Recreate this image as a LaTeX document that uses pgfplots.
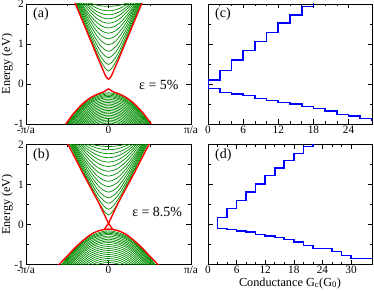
\documentclass[border=0pt]{standalone}
\usepackage{fontspec}
\setmainfont{Liberation Serif}
\usepackage{pgfplots}
\pgfplotsset{compat=1.18}
\definecolor{bgreen}{RGB}{0,140,0}
\definecolor{bred}{RGB}{255,0,0}
\definecolor{bblue}{RGB}{0,0,255}
\tikzset{plab/.style={anchor=north west, xshift=6bp, yshift=-3bp, inner sep=1bp, font=\fontsize{14}{16}\selectfont}}
\pgfplotsset{
  base/.style={scale only axis, height=120bp, anchor=south west,
    ymin=-1, ymax=2, ytick={-1,0,1,2}, minor ytick={-0.5,0.5,1.5},
    tick align=inside, major tick length=4.5bp, minor tick length=2.5bp,
    axis line style={line width=0.6pt},
    every tick/.append style={line width=0.5pt, black},
    tick label style={font=\fontsize{11.3}{13}\selectfont},
    label style={font=\fontsize{12.3}{14}\selectfont},
    /pgf/number format/assume math mode=true,
    xticklabel style={inner ysep=1.5bp},
    yticklabel style={inner xsep=2bp},
  },
  leftax/.style={base, width=165bp, xmin=-1, xmax=1, xtick={-1,0,1},
    xticklabels={{-π/a},{0},{π/a}}, minor xtick={-0.5,0.5},
    ylabel={Energy (eV)},
    ylabel style={at={(axis description cs:-0.096,0.5)}, anchor=base, inner sep=0pt}},
  rightax/.style={base, width=164bp, xmin=0, minor x tick num=2, yticklabels={}},
  gr/.style={color=bgreen, line width=0.7pt, smooth},
  rd/.style={color=bred, line width=1.4pt, smooth},
  bl/.style={draw=bblue, color=bblue, line width=1.6pt},
}
\begin{document}
\begin{tikzpicture}
%================ (a) =================
\begin{axis}[leftax, at={(26bp,167bp)}]
% conduction subbands
\addplot[gr] coordinates {(-0.4875,2.488) (-0.39,2) (-0.2925,1.515) (-0.195,1.039) (-0.0975,0.591) (0,0.325) (0.0975,0.591) (0.195,1.039) (0.2925,1.515) (0.39,2) (0.4875,2.488)};
\addplot[gr] coordinates {(-0.475,2.473) (-0.38,2) (-0.285,1.535) (-0.19,1.086) (-0.095,0.689) (0,0.49) (0.095,0.689) (0.19,1.086) (0.285,1.535) (0.38,2) (0.475,2.473)};
\addplot[gr] coordinates {(-0.4625,2.450) (-0.37,2) (-0.2775,1.562) (-0.185,1.152) (-0.0925,0.811) (0,0.66) (0.0925,0.811) (0.185,1.152) (0.2775,1.562) (0.37,2) (0.4625,2.450)};
\addplot[gr] coordinates {(-0.45,2.423) (-0.36,2) (-0.27,1.595) (-0.18,1.227) (-0.09,0.938) (0,0.82) (0.09,0.938) (0.18,1.227) (0.27,1.595) (0.36,2) (0.45,2.423)};
\addplot[gr] coordinates {(-0.4375,2.390) (-0.35,2) (-0.2625,1.634) (-0.175,1.312) (-0.0875,1.073) (0,0.98) (0.0875,1.073) (0.175,1.312) (0.2625,1.634) (0.35,2) (0.4375,2.390)};
\addplot[gr] coordinates {(-0.425,2.352) (-0.34,2) (-0.255,1.676) (-0.17,1.399) (-0.085,1.203) (0,1.13) (0.085,1.203) (0.17,1.399) (0.255,1.676) (0.34,2) (0.425,2.352)};
\addplot[gr] coordinates {(-0.4125,2.311) (-0.33,2) (-0.2475,1.719) (-0.165,1.486) (-0.0825,1.327) (0,1.27) (0.0825,1.327) (0.165,1.486) (0.2475,1.719) (0.33,2) (0.4125,2.311)};
\addplot[gr] coordinates {(-0.40,2.269) (-0.32,2) (-0.24,1.763) (-0.16,1.572) (-0.08,1.445) (0,1.40) (0.08,1.445) (0.16,1.572) (0.24,1.763) (0.32,2) (0.40,2.269)};
\addplot[gr] coordinates {(-0.375,2.225) (-0.30,2) (-0.225,1.806) (-0.15,1.653) (-0.075,1.554) (0,1.52) (0.075,1.554) (0.15,1.653) (0.225,1.806) (0.30,2) (0.375,2.225)};
\addplot[gr] coordinates {(-0.35,2.181) (-0.28,2) (-0.21,1.847) (-0.14,1.730) (-0.07,1.656) (0,1.63) (0.07,1.656) (0.14,1.730) (0.21,1.847) (0.28,2) (0.35,2.181)};
\addplot[gr] coordinates {(-0.325,2.137) (-0.26,2) (-0.195,1.887) (-0.13,1.801) (-0.065,1.748) (0,1.73) (0.065,1.748) (0.13,1.801) (0.195,1.887) (0.26,2) (0.325,2.137)};
\addplot[gr] coordinates {(-0.2875,2.090) (-0.23,2) (-0.1725,1.927) (-0.115,1.874) (-0.0575,1.841) (0,1.83) (0.0575,1.841) (0.115,1.874) (0.1725,1.927) (0.23,2) (0.2875,2.090)};
\addplot[gr] coordinates {(-0.2375,2.033) (-0.19,2) (-0.1425,1.974) (-0.095,1.955) (-0.0475,1.944) (0,1.94) (0.0475,1.944) (0.095,1.955) (0.1425,1.974) (0.19,2) (0.2375,2.033)};
% valence subbands
\addplot[gr] coordinates {(-0.663,-1.538) (-0.510,-1) (-0.255,-0.415) (0,-0.22) (0.255,-0.415) (0.510,-1) (0.663,-1.538)};
\addplot[gr] coordinates {(-0.65,-1.5175) (-0.5,-1) (-0.25,-0.4375) (0,-0.25) (0.25,-0.4375) (0.5,-1) (0.65,-1.5175)};
\addplot[gr] coordinates {(-0.637,-1.497) (-0.490,-1) (-0.245,-0.46) (0,-0.28) (0.245,-0.46) (0.490,-1) (0.637,-1.497)};
\addplot[gr] coordinates {(-0.624,-1.476) (-0.480,-1) (-0.24,-0.4825) (0,-0.31) (0.24,-0.4825) (0.480,-1) (0.624,-1.476)};
\addplot[gr] coordinates {(-0.610,-1.455) (-0.469,-1) (-0.2345,-0.505) (0,-0.34) (0.2345,-0.505) (0.469,-1) (0.610,-1.455)};
\addplot[gr] coordinates {(-0.591,-1.428) (-0.455,-1) (-0.2275,-0.535) (0,-0.38) (0.2275,-0.535) (0.455,-1) (0.591,-1.428)};
\addplot[gr] coordinates {(-0.572,-1.40) (-0.440,-1) (-0.22,-0.565) (0,-0.42) (0.22,-0.565) (0.440,-1) (0.572,-1.40)};
\addplot[gr] coordinates {(-0.552,-1.373) (-0.424,-1) (-0.212,-0.595) (0,-0.46) (0.212,-0.595) (0.424,-1) (0.552,-1.373)};
\addplot[gr] coordinates {(-0.531,-1.345) (-0.408,-1) (-0.204,-0.625) (0,-0.50) (0.204,-0.625) (0.408,-1) (0.531,-1.345)};
\addplot[gr] coordinates {(-0.509,-1.317) (-0.392,-1) (-0.196,-0.655) (0,-0.54) (0.196,-0.655) (0.392,-1) (0.509,-1.317)};
\addplot[gr] coordinates {(-0.486,-1.29) (-0.374,-1) (-0.187,-0.685) (0,-0.58) (0.187,-0.685) (0.374,-1) (0.486,-1.29)};
\addplot[gr] coordinates {(-0.463,-1.262) (-0.356,-1) (-0.178,-0.715) (0,-0.62) (0.178,-0.715) (0.356,-1) (0.463,-1.262)};
\addplot[gr] coordinates {(-0.438,-1.235) (-0.337,-1) (-0.168,-0.745) (0,-0.66) (0.168,-0.745) (0.337,-1) (0.438,-1.235)};
\addplot[gr] coordinates {(-0.411,-1.207) (-0.316,-1) (-0.158,-0.775) (0,-0.70) (0.158,-0.775) (0.316,-1) (0.411,-1.207)};
\addplot[gr] coordinates {(-0.383,-1.179) (-0.294,-1) (-0.147,-0.805) (0,-0.74) (0.147,-0.805) (0.294,-1) (0.383,-1.179)};
\addplot[gr] coordinates {(-0.352,-1.152) (-0.271,-1) (-0.135,-0.835) (0,-0.78) (0.135,-0.835) (0.271,-1) (0.352,-1.152)};
\addplot[gr] coordinates {(-0.318,-1.124) (-0.245,-1) (-0.122,-0.865) (0,-0.82) (0.122,-0.865) (0.245,-1) (0.318,-1.124)};
\addplot[gr] coordinates {(-0.281,-1.097) (-0.216,-1) (-0.108,-0.895) (0,-0.86) (0.108,-0.895) (0.216,-1) (0.281,-1.097)};
\addplot[gr] coordinates {(-0.237,-1.069) (-0.183,-1) (-0.091,-0.925) (0,-0.90) (0.091,-0.925) (0.183,-1) (0.237,-1.069)};
\addplot[gr] coordinates {(-0.184,-1.041) (-0.141,-1) (-0.071,-0.955) (0,-0.94) (0.071,-0.955) (0.141,-1) (0.184,-1.041)};
\addplot[gr] coordinates {(-0.106,-1.014) (-0.082,-1) (-0.041,-0.985) (0,-0.98) (0.041,-0.985) (0.082,-1) (0.106,-1.014)};
% outermost (red) bands
\addplot[rd] coordinates {(-0.5,2.498) (-0.4,2) (-0.3,1.502) (-0.2,1.005) (-0.1,0.513) (0,0.12) (0.1,0.513) (0.2,1.005) (0.3,1.502) (0.4,2) (0.5,2.498)};
\addplot[rd] coordinates {(-0.6,-1.28) (-0.52,-1.011) (-0.42,-0.729) (-0.3,-0.47) (-0.2,-0.32) (-0.12,-0.243) (-0.05,-0.19) (0,-0.125) (0.05,-0.19) (0.12,-0.243) (0.2,-0.32) (0.3,-0.47) (0.42,-0.729) (0.52,-1.011) (0.6,-1.28)};
\node[font=\fontsize{14}{16}\selectfont] at (axis cs:0.61,-0.03) {ε = 5\%};
\node[plab] at (rel axis cs:0,1) {(a)};
\end{axis}
%================ (b) =================
\begin{axis}[leftax, at={(26bp,26.5bp)}]
\addplot[gr] coordinates {(-0.5875,2.494) (-0.47,2) (-0.3525,1.508) (-0.235,1.021) (-0.1175,0.551) (0,0.24) (0.1175,0.551) (0.235,1.021) (0.3525,1.508) (0.47,2) (0.5875,2.494)};
\addplot[gr] coordinates {(-0.575,2.484) (-0.46,2) (-0.345,1.521) (-0.23,1.053) (-0.115,0.621) (0,0.38) (0.115,0.621) (0.23,1.053) (0.345,1.521) (0.46,2) (0.575,2.484)};
\addplot[gr] coordinates {(-0.5625,2.468) (-0.45,2) (-0.3375,1.540) (-0.225,1.100) (-0.1125,0.716) (0,0.53) (0.1125,0.716) (0.225,1.100) (0.3375,1.540) (0.45,2) (0.5625,2.468)};
\addplot[gr] coordinates {(-0.55,2.449) (-0.44,2) (-0.33,1.564) (-0.22,1.156) (-0.11,0.819) (0,0.67) (0.11,0.819) (0.22,1.156) (0.33,1.564) (0.44,2) (0.55,2.449)};
\addplot[gr] coordinates {(-0.5375,2.425) (-0.43,2) (-0.3225,1.593) (-0.215,1.222) (-0.1075,0.930) (0,0.81) (0.1075,0.930) (0.215,1.222) (0.3225,1.593) (0.43,2) (0.5375,2.425)};
\addplot[gr] coordinates {(-0.525,2.396) (-0.42,2) (-0.315,1.626) (-0.21,1.295) (-0.105,1.047) (0,0.95) (0.105,1.047) (0.21,1.295) (0.315,1.626) (0.42,2) (0.525,2.396)};
\addplot[gr] coordinates {(-0.5125,2.365) (-0.41,2) (-0.3075,1.661) (-0.205,1.369) (-0.1025,1.159) (0,1.08) (0.1025,1.159) (0.205,1.369) (0.3075,1.661) (0.41,2) (0.5125,2.365)};
\addplot[gr] coordinates {(-0.5,2.329) (-0.4,2) (-0.3,1.700) (-0.2,1.448) (-0.1,1.274) (0,1.21) (0.1,1.274) (0.2,1.448) (0.3,1.700) (0.4,2) (0.5,2.329)};
\addplot[gr] coordinates {(-0.475,2.292) (-0.38,2) (-0.285,1.739) (-0.19,1.525) (-0.095,1.381) (0,1.33) (0.095,1.381) (0.19,1.525) (0.285,1.739) (0.38,2) (0.475,2.292)};
\addplot[gr] coordinates {(-0.45,2.251) (-0.36,2) (-0.27,1.780) (-0.18,1.605) (-0.09,1.490) (0,1.45) (0.09,1.490) (0.18,1.605) (0.27,1.780) (0.36,2) (0.45,2.251)};
\addplot[gr] coordinates {(-0.425,2.209) (-0.34,2) (-0.255,1.821) (-0.17,1.681) (-0.085,1.591) (0,1.56) (0.085,1.591) (0.17,1.681) (0.255,1.821) (0.34,2) (0.425,2.209)};
\addplot[gr] coordinates {(-0.40,2.164) (-0.32,2) (-0.24,1.863) (-0.16,1.758) (-0.08,1.693) (0,1.67) (0.08,1.693) (0.16,1.758) (0.24,1.863) (0.32,2) (0.40,2.164)};
\addplot[gr] coordinates {(-0.3625,2.118) (-0.29,2) (-0.2175,1.903) (-0.145,1.830) (-0.0725,1.785) (0,1.77) (0.0725,1.785) (0.145,1.830) (0.2175,1.903) (0.29,2) (0.3625,2.118)};
\addplot[gr] coordinates {(-0.3125,2.070) (-0.25,2) (-0.1875,1.944) (-0.125,1.903) (-0.0625,1.878) (0,1.87) (0.0625,1.878) (0.125,1.903) (0.1875,1.944) (0.25,2) (0.3125,2.070)};
\addplot[gr] coordinates {(-0.25,2.028) (-0.2,2) (-0.15,1.978) (-0.1,1.963) (-0.05,1.953) (0,1.95) (0.05,1.953) (0.1,1.963) (0.15,1.978) (0.2,2) (0.25,2.028)};
% valence
\addplot[gr] coordinates {(-0.739,-1.58) (-0.568,-1) (-0.284,-0.37) (0,-0.16) (0.284,-0.37) (0.568,-1) (0.739,-1.58)};
\addplot[gr] coordinates {(-0.726,-1.559) (-0.558,-1) (-0.279,-0.3925) (0,-0.19) (0.279,-0.3925) (0.558,-1) (0.726,-1.559)};
\addplot[gr] coordinates {(-0.712,-1.538) (-0.548,-1) (-0.274,-0.415) (0,-0.22) (0.274,-0.415) (0.548,-1) (0.712,-1.538)};
\addplot[gr] coordinates {(-0.698,-1.5175) (-0.537,-1) (-0.269,-0.4375) (0,-0.25) (0.269,-0.4375) (0.537,-1) (0.698,-1.5175)};
\addplot[gr] coordinates {(-0.679,-1.49) (-0.523,-1) (-0.261,-0.4675) (0,-0.29) (0.261,-0.4675) (0.523,-1) (0.679,-1.49)};
\addplot[gr] coordinates {(-0.660,-1.462) (-0.508,-1) (-0.254,-0.4975) (0,-0.33) (0.254,-0.4975) (0.508,-1) (0.660,-1.462)};
\addplot[gr] coordinates {(-0.640,-1.435) (-0.492,-1) (-0.246,-0.5275) (0,-0.37) (0.246,-0.5275) (0.492,-1) (0.640,-1.435)};
\addplot[gr] coordinates {(-0.619,-1.407) (-0.476,-1) (-0.238,-0.5575) (0,-0.41) (0.238,-0.5575) (0.476,-1) (0.619,-1.407)};
\addplot[gr] coordinates {(-0.598,-1.38) (-0.460,-1) (-0.23,-0.5875) (0,-0.45) (0.23,-0.5875) (0.460,-1) (0.598,-1.38)};
\addplot[gr] coordinates {(-0.570,-1.345) (-0.439,-1) (-0.219,-0.625) (0,-0.50) (0.219,-0.625) (0.439,-1) (0.570,-1.345)};
\addplot[gr] coordinates {(-0.541,-1.311) (-0.416,-1) (-0.208,-0.6625) (0,-0.55) (0.208,-0.6625) (0.416,-1) (0.541,-1.311)};
\addplot[gr] coordinates {(-0.510,-1.276) (-0.392,-1) (-0.196,-0.70) (0,-0.60) (0.196,-0.70) (0.392,-1) (0.510,-1.276)};
\addplot[gr] coordinates {(-0.477,-1.2415) (-0.367,-1) (-0.183,-0.7375) (0,-0.65) (0.183,-0.7375) (0.367,-1) (0.477,-1.2415)};
\addplot[gr] coordinates {(-0.442,-1.207) (-0.340,-1) (-0.17,-0.775) (0,-0.70) (0.17,-0.775) (0.340,-1) (0.442,-1.207)};
\addplot[gr] coordinates {(-0.403,-1.1725) (-0.310,-1) (-0.155,-0.8125) (0,-0.75) (0.155,-0.8125) (0.310,-1) (0.403,-1.1725)};
\addplot[gr] coordinates {(-0.360,-1.138) (-0.277,-1) (-0.139,-0.85) (0,-0.80) (0.139,-0.85) (0.277,-1) (0.360,-1.138)};
\addplot[gr] coordinates {(-0.312,-1.1035) (-0.240,-1) (-0.12,-0.8875) (0,-0.85) (0.12,-0.8875) (0.240,-1) (0.312,-1.1035)};
\addplot[gr] coordinates {(-0.255,-1.069) (-0.196,-1) (-0.098,-0.925) (0,-0.90) (0.098,-0.925) (0.196,-1) (0.255,-1.069)};
\addplot[gr] coordinates {(-0.18,-1.0345) (-0.139,-1) (-0.069,-0.9625) (0,-0.95) (0.069,-0.9625) (0.139,-1) (0.18,-1.0345)};
% red bands
\addplot[color=bred, line width=1.4pt] coordinates {(-0.62,2.5) (-0.49,2.0) (-0.3,1.24) (-0.12,0.55) (0,0.03) (0.05,-0.12)};
\addplot[color=bred, line width=1.4pt] coordinates {(0.62,2.5) (0.49,2.0) (0.3,1.24) (0.12,0.55) (0,0.03) (-0.05,-0.12)};
\addplot[rd] coordinates {(-0.7,-1.2) (-0.6,-1.0) (-0.5,-0.79) (-0.4,-0.57) (-0.3,-0.385) (-0.2,-0.23) (-0.1,-0.145) (0,-0.115) (0.1,-0.145) (0.2,-0.23) (0.3,-0.385) (0.4,-0.57) (0.5,-0.79) (0.6,-1.0) (0.7,-1.2)};
\node[font=\fontsize{14}{16}\selectfont] at (axis cs:0.59,0.32) {ε = 8.5\%};
\node[plab] at (rel axis cs:0,1) {(b)};
\end{axis}
%================ (c) =================
\begin{axis}[rightax, at={(208bp,167bp)}, xmax=28, xtick={0,6,...,24}]
\addplot[bl] coordinates {(30,-0.917) (28,-0.917) (28,-0.858) (26,-0.858) (26,-0.8) (24,-0.8) (24,-0.758) (22,-0.758) (22,-0.675) (20,-0.675) (20,-0.617) (18,-0.617) (18,-0.567) (16,-0.567) (16,-0.5) (14,-0.5) (14,-0.458) (12,-0.458) (12,-0.417) (10,-0.417) (10,-0.358) (8,-0.358) (8,-0.29) (6,-0.29) (6,-0.25) (4,-0.25) (4,-0.208) (2,-0.208) (2,-0.108) (0,-0.108) (0,0.10) (2,0.10) (2,0.333) (4,0.333) (4,0.60) (6,0.60) (6,0.833) (8,0.833) (8,1.06) (10,1.06) (10,1.29) (12,1.29) (12,1.52) (14,1.52) (14,1.73) (16,1.73) (16,1.94) (18,1.94) (18,2.1)};
\node[plab] at (rel axis cs:0,1) {(c)};
\end{axis}
%================ (d) =================
\begin{axis}[rightax, at={(208bp,26.5bp)}, xmax=34.4, xtick={0,6,...,30},
  xlabel={Conductance G\textsubscript{c}(G\textsubscript{0})},
  xlabel style={at={(axis description cs:0.5,-0.18)}, anchor=base}]
\addplot[bl] coordinates {(36,-0.85) (30,-0.85) (30,-0.77) (28,-0.77) (28,-0.68) (26,-0.68) (26,-0.60) (22,-0.60) (22,-0.52) (20,-0.52) (20,-0.44) (18,-0.44) (18,-0.375) (16,-0.375) (16,-0.33) (14,-0.33) (14,-0.29) (12,-0.29) (12,-0.25) (10,-0.25) (10,-0.19) (8,-0.19) (8,-0.16) (6,-0.16) (6,-0.13) (4,-0.13) (4,-0.10) (2,-0.10) (2,0.18) (4,0.18) (4,0.40) (6,0.40) (6,0.60) (8,0.60) (8,0.815) (10,0.815) (10,1.015) (12,1.015) (12,1.225) (14,1.225) (14,1.415) (16,1.415) (16,1.60) (18,1.60) (18,1.775) (20,1.775) (20,1.95) (22,1.95) (22,2.1)};
\node[plab] at (rel axis cs:0,1) {(d)};
\end{axis}
\pgfresetboundingbox
\path[use as bounding box] (0,0) rectangle (374bp,291bp);
\end{tikzpicture}
\end{document}
